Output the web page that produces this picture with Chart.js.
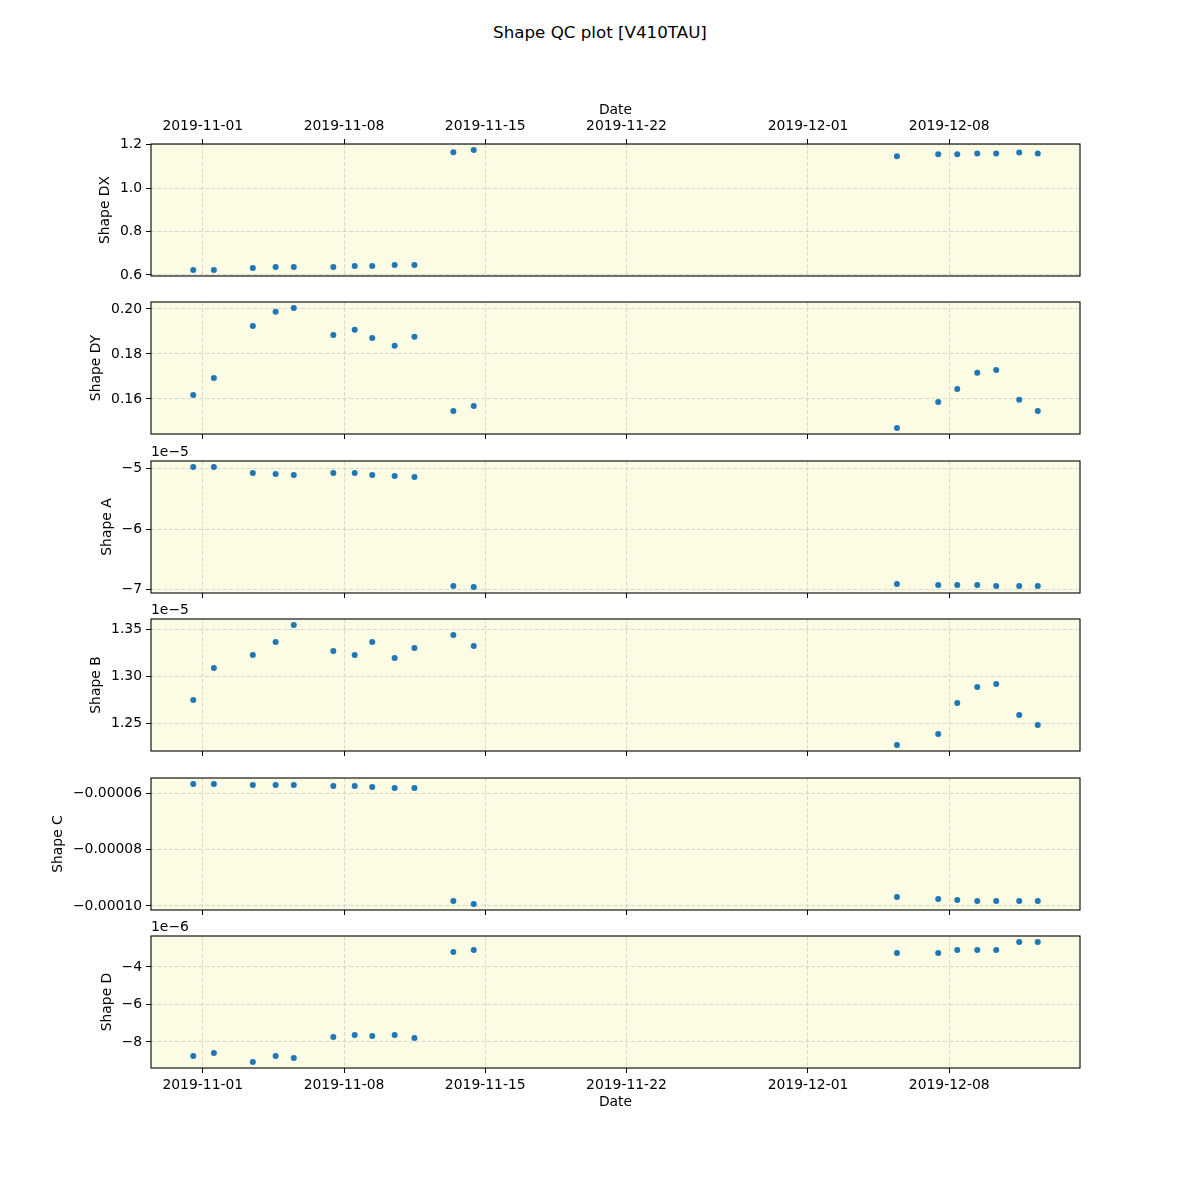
<!DOCTYPE html>
<html>
<head>
<meta charset="utf-8">
<script src="https://cdn.jsdelivr.net/npm/chart.js@4"></script>
<style>
  body { margin: 0; background: #fff; width: 1200px; height: 1200px; position: relative; overflow: hidden; font-family: "DejaVu Sans", sans-serif; }
  #title { position: absolute; top: 22px; left: 0; width: 1200px; text-align: center; font-size: 16.7px; color: #000; }
  canvas { position: absolute; left: 0; }
</style>
</head>
<body>
<div id="title">Shape QC plot [V410TAU]</div>
<div id="wrap"></div>
<script>
// observation times (UTC)
const dates = [
  "2019-10-31T12:36", "2019-11-01T13:12", "2019-11-03T11:31", "2019-11-04T14:38", "2019-11-05T12:14",
  "2019-11-07T11:17", "2019-11-08T12:43", "2019-11-09T09:36", "2019-11-10T12:14", "2019-11-11T11:46",
  "2019-11-13T10:05", "2019-11-14T10:19", "2019-12-05T09:50", "2019-12-07T10:55", "2019-12-08T09:36",
  "2019-12-09T09:22", "2019-12-10T07:55", "2019-12-11T11:17", "2019-12-12T09:22"
];

const shapeDX = [0.623, 0.623, 0.632, 0.637, 0.637, 0.637, 0.641, 0.641, 0.646, 0.646,
  1.166, 1.176, 1.147, 1.156, 1.156, 1.160, 1.160, 1.165, 1.160];
const shapeDY = [0.1618, 0.1693, 0.1924, 0.1987, 0.2004, 0.1884, 0.1907, 0.1871, 0.1836, 0.1876,
  0.1547, 0.1569, 0.1471, 0.1587, 0.1644, 0.1716, 0.1729, 0.1596, 0.1547];
const shapeA = [-4.972e-5, -4.972e-5, -5.072e-5, -5.088e-5, -5.105e-5, -5.072e-5, -5.072e-5, -5.105e-5, -5.122e-5, -5.138e-5,
  -6.945e-5, -6.961e-5, -6.912e-5, -6.928e-5, -6.928e-5, -6.928e-5, -6.945e-5, -6.945e-5, -6.945e-5];
const shapeB = [1.2745e-5, 1.3085e-5, 1.3223e-5, 1.3362e-5, 1.3543e-5, 1.3266e-5, 1.3223e-5, 1.3362e-5, 1.3191e-5, 1.3298e-5,
  1.3436e-5, 1.3319e-5, 1.2266e-5, 1.2383e-5, 1.2713e-5, 1.2883e-5, 1.2915e-5, 1.2585e-5, 1.2479e-5];
const shapeC = [-5.656e-5, -5.656e-5, -5.691e-5, -5.691e-5, -5.691e-5, -5.727e-5, -5.727e-5, -5.763e-5, -5.798e-5, -5.798e-5,
  -9.822e-5, -9.929e-5, -9.680e-5, -9.751e-5, -9.786e-5, -9.822e-5, -9.822e-5, -9.822e-5, -9.822e-5];
const shapeD = [-8.747e-6, -8.587e-6, -9.067e-6, -8.747e-6, -8.853e-6, -7.733e-6, -7.627e-6, -7.680e-6, -7.627e-6, -7.787e-6,
  -3.200e-6, -3.093e-6, -3.253e-6, -3.253e-6, -3.093e-6, -3.093e-6, -3.093e-6, -2.667e-6, -2.667e-6];

// tick labels
const dateTicks = ["2019-11-01", "2019-11-08", "2019-11-15", "2019-11-22", "2019-12-01", "2019-12-08"];
const dxTicks = [0.6, 0.8, 1.0, 1.2];
const dyTicks = [0.16, 0.18, 0.20];
const aTicks = [-7e-5, -6e-5, -5e-5];
const bTicks = [1.25e-5, 1.30e-5, 1.35e-5];
const cTicks = [-1e-4, -8e-5, -6e-5];
const dTicks = [-8e-6, -6e-6, -4e-6];

const FONT = "DejaVu Sans";
const FS = 13.9;
const BG = "#fcfbe3";
const GRID = "#d3d3d3";

Chart.defaults.font.family = FONT;
Chart.defaults.font.size = FS;
Chart.defaults.color = "#000";

const minus = s => s.replace("-", "\u2212");

const panels = [
  { label: "Shape DX", values: shapeDX, ticks: dxTicks, fmt: v => v.toFixed(1), offset: "" },
  { label: "Shape DY", values: shapeDY, ticks: dyTicks, fmt: v => v.toFixed(2), offset: "" },
  { label: "Shape A", values: shapeA, ticks: aTicks, fmt: v => minus((v / 1e-5).toFixed(0)), offset: "1e\u22125" },
  { label: "Shape B", values: shapeB, ticks: bTicks, fmt: v => (v / 1e-5).toFixed(2), offset: "1e\u22125" },
  { label: "Shape C", values: shapeC, ticks: cTicks, fmt: v => minus(v.toFixed(5)), offset: "" },
  { label: "Shape D", values: shapeD, ticks: dTicks, fmt: v => minus((v / 1e-6).toFixed(0)), offset: "1e\u22126" }
];

const times = dates.map(d => Date.parse(d + ":00Z"));
const tickTimes = dateTicks.map(d => Date.parse(d + "T00:00:00Z"));

function padRange(vals) {
  const lo = Math.min(...vals), hi = Math.max(...vals);
  const m = (hi - lo) * 0.05;
  return [lo - m, hi + m];
}
const [xMin, xMax] = padRange(times);

const framePlugin = {
  id: "frame",
  beforeDraw(chart) {
    const a = chart.chartArea, ctx = chart.ctx;
    ctx.save();
    ctx.fillStyle = BG;
    ctx.fillRect(a.left, a.top, a.right - a.left, a.bottom - a.top);
    ctx.restore();
  },
  afterDraw(chart) {
    const a = chart.chartArea, ctx = chart.ctx;
    const p = chart.options.plugins.frame;
    ctx.save();
    ctx.strokeStyle = "#000";
    ctx.lineWidth = 1.1;
    ctx.strokeRect(a.left, a.top, a.right - a.left, a.bottom - a.top);
    ctx.font = FS + "px '" + FONT + "'";
    ctx.fillStyle = "#000";
    // y label placed left of the widest tick label
    let w = 0;
    chart.scales.y.ticks.forEach(t => { w = Math.max(w, ctx.measureText(t.label).width); });
    const x = a.left - 5 - 5 - w - 5.6 - 8;
    ctx.translate(x, (a.top + a.bottom) / 2);
    ctx.rotate(-Math.PI / 2);
    ctx.textAlign = "center";
    ctx.textBaseline = "middle";
    ctx.fillText(p.label, 0, 0);
    ctx.setTransform(1, 0, 0, 1, 0, 0);
    if (p.offset) {
      ctx.textAlign = "left";
      ctx.textBaseline = "bottom";
      ctx.fillText(p.offset, a.left, a.top - 2);
    }
    ctx.restore();
  }
};

const wrap = document.getElementById("wrap");
const plotH = 132;

panels.forEach((p, i) => {
  const first = i === 0, last = i === panels.length - 1;
  const top = Math.round(144 + i * 158.4);
  const padTop = first ? 10 : 20;
  const xTopH = first ? 46 : 0;
  const xBotH = first ? 0 : (last ? 47 : 8);
  const padBot = 24;
  const h = padTop + xTopH + plotH + xBotH + padBot;

  const cv = document.createElement("canvas");
  cv.width = 1200;
  cv.height = h;
  cv.style.top = (top - padTop - xTopH) + "px";
  wrap.appendChild(cv);

  const [yMin, yMax] = padRange(p.values);

  new Chart(cv, {
    type: "scatter",
    data: {
      datasets: [{
        data: times.map((t, k) => ({ x: t, y: p.values[k] })),
        backgroundColor: "#1f77b4",
        borderWidth: 0,
        pointRadius: 3,
        pointHoverRadius: 3
      }]
    },
    options: {
      responsive: false,
      animation: false,
      events: [],
      layout: { padding: { left: 0, right: 120, top: padTop, bottom: padBot } },
      plugins: {
        legend: { display: false },
        tooltip: { enabled: false },
        frame: { label: p.label, offset: p.offset }
      },
      scales: {
        x: {
          type: "linear",
          position: first ? "top" : "bottom",
          min: xMin,
          max: xMax,
          afterBuildTicks: s => { s.ticks = tickTimes.map(v => ({ value: v })); },
          afterFit: s => { s.height = first ? xTopH : xBotH; },
          ticks: {
            display: first || last,
            autoSkip: false,
            maxRotation: 0,
            padding: 4,
            callback: v => new Date(v).toISOString().slice(0, 10)
          },
          grid: { color: GRID, lineWidth: 0.9, tickColor: "#000", tickLength: 5, tickWidth: 1, tickBorderDash: [] },
          border: { display: false, dash: [4, 2] },
          title: { display: first || last, text: "Date", padding: { top: 4, bottom: 4 } }
        },
        y: {
          type: "linear",
          min: yMin,
          max: yMax,
          afterBuildTicks: s => { s.ticks = p.ticks.map(v => ({ value: v })); },
          afterFit: s => { s.width = 151; },
          ticks: { padding: 4, callback: v => p.fmt(v) },
          grid: { color: GRID, lineWidth: 0.9, tickColor: "#000", tickLength: 5, tickWidth: 1, tickBorderDash: [] },
          border: { display: false, dash: [4, 2] },
          title: { display: false }
        }
      }
    },
    plugins: [framePlugin]
  });
});
</script>
</body>
</html>
